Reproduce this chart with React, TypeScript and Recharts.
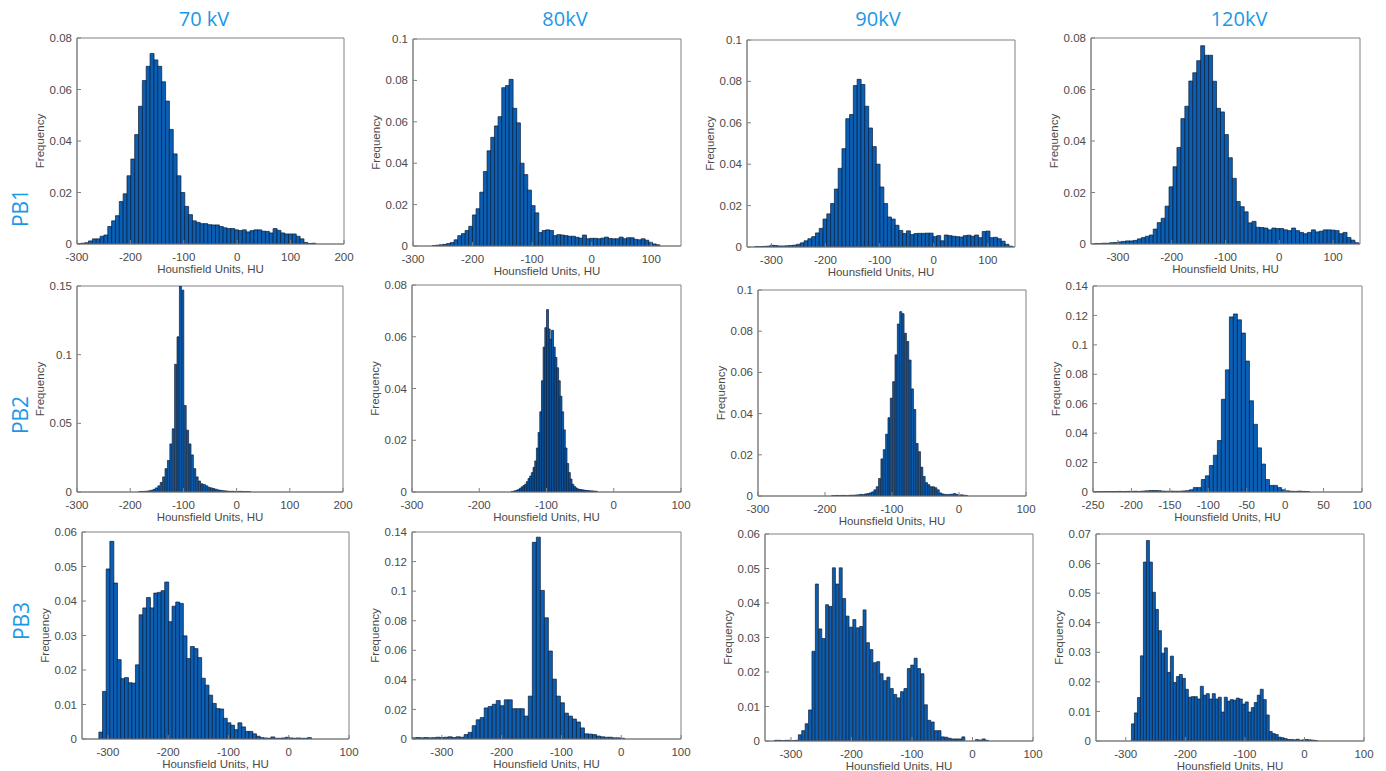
import React from 'react';
import { BarChart, Bar, XAxis, YAxis, ReferenceArea } from 'recharts';

// bin frequencies, left to right
// PB1
const pb1_70kV = [0.0002, 0.0003, 0.0005, 0.0012, 0.002, 0.002, 0.003, 0.0035, 0.0068, 0.009, 0.011, 0.0165, 0.0195, 0.0265, 0.033, 0.0425, 0.0535, 0.0635, 0.069, 0.074, 0.0715, 0.069, 0.063, 0.0555, 0.0445, 0.035, 0.0265, 0.02, 0.0146, 0.0114, 0.009, 0.0084, 0.0079, 0.0079, 0.0075, 0.0074, 0.0074, 0.0068, 0.0063, 0.006, 0.006, 0.0055, 0.0052, 0.0055, 0.0047, 0.0052, 0.0055, 0.0055, 0.005, 0.0049, 0.0043, 0.006, 0.0053, 0.0043, 0.0039, 0.0039, 0.0039, 0.003, 0.002, 0.0006, 0.0002, 0.0003];
const pb1_80kV = [0.0002, 0.0004, 0.0006, 0.0008, 0.0012, 0.0017, 0.003, 0.005, 0.006, 0.0075, 0.0095, 0.015, 0.018, 0.026, 0.036, 0.046, 0.0525, 0.058, 0.0625, 0.0765, 0.0775, 0.0805, 0.0665, 0.0595, 0.04, 0.0345, 0.027, 0.0195, 0.016, 0.0065, 0.0075, 0.0078, 0.0075, 0.005, 0.0055, 0.0053, 0.005, 0.0047, 0.0047, 0.0042, 0.0038, 0.0053, 0.0035, 0.0037, 0.0037, 0.0035, 0.0038, 0.0043, 0.0036, 0.0035, 0.0035, 0.0043, 0.0035, 0.004, 0.004, 0.0032, 0.003, 0.0035, 0.0028, 0.0018, 0.001, 0.0006];
const pb1_90kV = [0.0002, 0.0002, 0.0003, 0.0004, 0.0008, 0.0007, 0.0005, 0.0005, 0.0006, 0.0007, 0.0009, 0.0013, 0.002, 0.003, 0.004, 0.005, 0.0068, 0.009, 0.0135, 0.016, 0.021, 0.028, 0.038, 0.0475, 0.062, 0.064, 0.078, 0.081, 0.0785, 0.068, 0.0575, 0.0485, 0.04, 0.029, 0.021, 0.0145, 0.0135, 0.0105, 0.008, 0.0065, 0.0078, 0.006, 0.0065, 0.0066, 0.0066, 0.0067, 0.0067, 0.005, 0.0055, 0.003, 0.0058, 0.0055, 0.0052, 0.005, 0.0048, 0.0055, 0.0057, 0.0052, 0.0058, 0.0045, 0.0075, 0.0077, 0.0045, 0.0047, 0.004, 0.0028, 0.0013, 0.0004];
const pb1_120kV = [0.0002, 0.0002, 0.0003, 0.0003, 0.0005, 0.0006, 0.0008, 0.001, 0.0012, 0.0012, 0.0014, 0.002, 0.0025, 0.003, 0.0035, 0.0058, 0.0083, 0.01, 0.0147, 0.0222, 0.03, 0.0375, 0.0487, 0.0535, 0.0633, 0.0665, 0.0712, 0.077, 0.0733, 0.0733, 0.0632, 0.0527, 0.0513, 0.0425, 0.0335, 0.0255, 0.0165, 0.0145, 0.0125, 0.0082, 0.0088, 0.0065, 0.0064, 0.0062, 0.0055, 0.0062, 0.006, 0.006, 0.0055, 0.0052, 0.0062, 0.0052, 0.0045, 0.004, 0.0045, 0.0055, 0.0047, 0.005, 0.0055, 0.0055, 0.0054, 0.0052, 0.004, 0.0045, 0.0025, 0.0015, 0.0005];

// PB2
const pb2_70kV = [0.0003, 0.0004, 0.0005, 0.0006, 0.0009, 0.0013, 0.002, 0.003, 0.0045, 0.007, 0.011, 0.017, 0.023, 0.035, 0.046, 0.093, 0.113, 0.15, 0.147, 0.063, 0.045, 0.035, 0.027, 0.017, 0.011, 0.008, 0.006, 0.0055, 0.0045, 0.0035, 0.003, 0.0025, 0.002, 0.0015, 0.0012, 0.001, 0.0008, 0.0006, 0.0005, 0.0005, 0.0004, 0.0004, 0.0005, 0.0004, 0.0003, 0.0003, 0.0002];
const pb2_80kV = [0.0002, 0.0003, 0.0005, 0.0007, 0.001, 0.0015, 0.002, 0.0025, 0.003, 0.004, 0.0052, 0.0062, 0.0075, 0.0095, 0.012, 0.017, 0.023, 0.031, 0.043, 0.056, 0.0635, 0.0705, 0.063, 0.059, 0.0625, 0.056, 0.052, 0.048, 0.043, 0.037, 0.031, 0.024, 0.017, 0.011, 0.0075, 0.005, 0.003, 0.0022, 0.0016, 0.0012, 0.001, 0.0009, 0.0008, 0.0007, 0.0006, 0.0005, 0.0005, 0.0004, 0.0004, 0.0003, 0.0003];
const pb2_90kV = [0.0002, 0.0002, 0.0003, 0.0002, 0.0003, 0.0003, 0.0002, 0.0003, 0.0004, 0.0004, 0.0005, 0.0006, 0.0008, 0.0007, 0.001, 0.0012, 0.0015, 0.002, 0.003, 0.0045, 0.0085, 0.018, 0.0225, 0.03, 0.038, 0.0475, 0.0555, 0.0685, 0.0835, 0.0895, 0.0885, 0.079, 0.075, 0.066, 0.052, 0.042, 0.0255, 0.0215, 0.014, 0.0095, 0.0065, 0.0055, 0.0045, 0.0045, 0.004, 0.003, 0.0015, 0.001, 0.0008, 0.0007, 0.0008, 0.0009, 0.0012, 0.0008, 0.0005, 0.0006, 0.0004, 0.0003];
const pb2_120kV = [0.0002, 0.0002, 0.0003, 0.0002, 0.0003, 0.0003, 0.0004, 0.0003, 0.0004, 0.0004, 0.0005, 0.0004, 0.0006, 0.0008, 0.001, 0.001, 0.0009, 0.0006, 0.0005, 0.0006, 0.0005, 0.0005, 0.0007, 0.0009, 0.0015, 0.003, 0.003, 0.0085, 0.011, 0.018, 0.025, 0.035, 0.063, 0.083, 0.119, 0.121, 0.117, 0.108, 0.089, 0.062, 0.046, 0.03, 0.019, 0.0085, 0.0045, 0.0045, 0.003, 0.0015, 0.0008, 0.0005, 0.0004, 0.0006, 0.0004, 0.0003];

// PB3
const pb3_70kV = [0.002, 0.0138, 0.0493, 0.0573, 0.0452, 0.023, 0.0175, 0.0178, 0.0163, 0.0162, 0.0215, 0.036, 0.038, 0.041, 0.038, 0.0423, 0.0425, 0.043, 0.0455, 0.034, 0.0385, 0.0397, 0.0393, 0.0299, 0.0233, 0.0268, 0.0262, 0.0236, 0.0176, 0.0156, 0.0127, 0.0103, 0.0088, 0.0087, 0.006, 0.0047, 0.004, 0.0027, 0.0047, 0.0035, 0.0022, 0.0022, 0.0015, 0.0008, 0.0004, 0.0003, 0.0002, 0.0006, 0.0002, 0.0002, 0.0003, 0.0005, 0.0003, 0.0002, 0.0003, 0.0002, 0.0002, 0.0004];
const pb3_80kV = [0.0008, 0.001, 0.0008, 0.001, 0.0008, 0.0009, 0.0012, 0.001, 0.0012, 0.0015, 0.001, 0.0015, 0.0012, 0.003, 0.0045, 0.009, 0.013, 0.0145, 0.021, 0.022, 0.0235, 0.026, 0.0225, 0.0265, 0.0265, 0.0205, 0.0205, 0.0205, 0.0155, 0.029, 0.133, 0.1365, 0.1005, 0.082, 0.0595, 0.0405, 0.029, 0.0245, 0.0175, 0.0155, 0.0135, 0.0115, 0.0075, 0.0035, 0.0033, 0.003, 0.002, 0.0015, 0.0012, 0.0012, 0.0008, 0.0008, 0.0005];
const pb3_90kV = [0.0002, 0.0002, 0.0001, 0.0002, 0.0002, 0.0001, 0.0002, 0.0018, 0.003, 0.005, 0.009, 0.026, 0.0455, 0.0325, 0.0297, 0.0395, 0.039, 0.0502, 0.0455, 0.0502, 0.0413, 0.0362, 0.033, 0.0352, 0.0328, 0.0332, 0.038, 0.0285, 0.0265, 0.0227, 0.023, 0.0195, 0.0175, 0.0185, 0.0152, 0.0135, 0.0125, 0.0143, 0.0152, 0.021, 0.022, 0.024, 0.021, 0.0195, 0.0105, 0.006, 0.0055, 0.003, 0.003, 0.0012, 0.0011, 0.0008, 0.0006, 0.0006, 0.0006, 0.0012, 0, 0, 0, 0.0004, 0.0003, 0.0006, 0.0002];
const pb3_120kV = [0.0058, 0.0095, 0.0147, 0.0288, 0.0605, 0.0678, 0.0605, 0.0503, 0.0445, 0.0373, 0.0297, 0.0315, 0.0232, 0.0287, 0.0198, 0.0218, 0.0225, 0.0212, 0.0175, 0.0148, 0.015, 0.015, 0.0142, 0.0185, 0.0155, 0.016, 0.0142, 0.016, 0.0142, 0.0148, 0.0098, 0.0148, 0.0135, 0.014, 0.0138, 0.0145, 0.0142, 0.0125, 0.0132, 0.0098, 0.0113, 0.013, 0.0155, 0.0175, 0.014, 0.0088, 0.0032, 0.0025, 0.0022, 0.0013, 0.0011, 0.0008, 0.0005, 0.0005, 0.0004, 0.0006, 0.0003, 0.0004, 0.0005, 0.0004, 0.0003, 0.0002];

// first bin edge and bin width (HU) of each histogram
const binStart = [-300, -268, -330.6, -344.6, -184, -152.5, -190, -250, -315, -350, -327.3, -290.5];
const binWidth = [7.2, 6.16, 7.0, 7.35, 4.5, 2.5, 3.5, 5.22, 6.07, 6.71, 5.63, 5.03];

const columnTitles = ['70 kV', '80kV', '90kV', '120kV'];
const rowTitles = ['PB1', 'PB2', 'PB3'];

const xTicksA = [-300, -200, -100, 0, 100, 200];
const xTicksB = [-300, -200, -100, 0, 100];
const xTicksC = [-250, -200, -150, -100, -50, 0, 50, 100];
const yTicks08 = [0, 0.02, 0.04, 0.06, 0.08];
const yTicks10 = [0, 0.02, 0.04, 0.06, 0.08, 0.1];
const yTicks14 = [0, 0.02, 0.04, 0.06, 0.08, 0.1, 0.12, 0.14];
const yTicks15 = [0, 0.05, 0.1, 0.15];
const yTicks06 = [0, 0.01, 0.02, 0.03, 0.04, 0.05, 0.06];
const yTicks07 = [0, 0.01, 0.02, 0.03, 0.04, 0.05, 0.06, 0.07];

const BLUE = '#1a98e6';
const TEXT = '#4a4a4a';
const AXIS = '#808080';
const FONT = '"Liberation Sans", Arial, sans-serif';
const ML = 74;
const MT = 6;
const MR = 22;
const MB = 50;

const panels = [
  { freq: pb1_70kV, xDomain: [-300, 200], xTicks: xTicksA, yMax: 0.08, yTicks: yTicks08, box: [77, 38, 267, 206] },
  { freq: pb1_80kV, xDomain: [-300, 150], xTicks: xTicksB, yMax: 0.1, yTicks: yTicks10, box: [413, 39, 268, 207] },
  { freq: pb1_90kV, xDomain: [-345, 150], xTicks: xTicksB, yMax: 0.1, yTicks: yTicks10, box: [747, 40, 268, 207] },
  { freq: pb1_120kV, xDomain: [-350, 150], xTicks: xTicksB, yMax: 0.08, yTicks: yTicks08, box: [1091, 38, 269, 206] },
  { freq: pb2_70kV, xDomain: [-300, 200], xTicks: xTicksA, yMax: 0.15, yTicks: yTicks15, box: [77, 286, 266, 206] },
  { freq: pb2_80kV, xDomain: [-300, 100], xTicks: xTicksB, yMax: 0.08, yTicks: yTicks08, box: [412, 285, 269, 207] },
  { freq: pb2_90kV, xDomain: [-300, 100], xTicks: xTicksB, yMax: 0.1, yTicks: yTicks10, box: [758, 290, 268, 206] },
  { freq: pb2_120kV, xDomain: [-250, 100], xTicks: xTicksC, yMax: 0.14, yTicks: yTicks14, box: [1093, 286, 269, 206] },
  { freq: pb3_70kV, xDomain: [-343, 100], xTicks: xTicksB, yMax: 0.06, yTicks: yTicks06, box: [82, 532, 267, 207] },
  { freq: pb3_80kV, xDomain: [-350, 100], xTicks: xTicksB, yMax: 0.14, yTicks: yTicks14, box: [412, 532, 269, 207] },
  { freq: pb3_90kV, xDomain: [-343, 100], xTicks: xTicksB, yMax: 0.06, yTicks: yTicks06, box: [765, 534, 268, 207] },
  { freq: pb3_120kV, xDomain: [-350, 100], xTicks: xTicksB, yMax: 0.07, yTicks: yTicks07, box: [1096, 534, 268, 207] },
];

const titlePos = [[204, 19], [565, 19], [878, 19], [1239, 19]];
const rowPos = [[20, 208], [20, 415], [21, 621]];

const tickStyle = { fill: TEXT, fontSize: 11.5, fontFamily: FONT };

function Histogram({ p, idx }: { p: any; idx: number }) {
  const [left, top, w, h] = p.box;
  const rows = p.freq.map((f: number, i: number) => ({
    hu: binStart[idx] + binWidth[idx] * (i + 0.5),
    f,
  }));
  return (
    <div style={{ position: 'absolute', left: left - ML, top: top - MT }}>
      <BarChart
        width={w + ML + MR}
        height={h + MT + MB}
        data={rows}
        margin={{ top: MT, right: MR, bottom: 0, left: 0 }}
        barCategoryGap={0}
        barGap={0}
      >
        <XAxis
          dataKey="hu"
          type="number"
          domain={p.xDomain}
          ticks={p.xTicks}
          allowDataOverflow
          interval={0}
          height={MB}
          tickSize={-4}
          tickMargin={13}
          stroke={AXIS}
          tick={tickStyle}
          label={{ value: 'Hounsfield Units, HU', position: 'center', fill: TEXT, fontSize: 11.5, fontFamily: FONT }}
        />
        {/* mirrored tick marks on the top and right edges, as MATLAB draws them */}
        <XAxis
          xAxisId="top"
          dataKey="hu"
          orientation="top"
          type="number"
          domain={p.xDomain}
          ticks={p.xTicks}
          allowDataOverflow
          interval={0}
          height={0}
          tickSize={-4}
          tick={false}
          stroke={AXIS}
        />
        <YAxis
          type="number"
          domain={[0, p.yMax]}
          ticks={p.yTicks}
          allowDataOverflow
          interval={0}
          width={ML}
          tickSize={-4}
          tickMargin={9}
          stroke={AXIS}
          tick={tickStyle}
          label={{ value: 'Frequency', angle: -90, position: 'center', fill: TEXT, fontSize: 11.5, fontFamily: FONT }}
        />
        <YAxis
          yAxisId="right"
          dataKey="f"
          orientation="right"
          type="number"
          domain={[0, p.yMax]}
          ticks={p.yTicks}
          allowDataOverflow
          interval={0}
          width={0}
          tickSize={-4}
          tick={false}
          stroke={AXIS}
        />
        <ReferenceArea
          x1={p.xDomain[0]}
          x2={p.xDomain[1]}
          y1={0}
          y2={p.yMax}
          fill="none"
          stroke={AXIS}
          strokeWidth={1}
          ifOverflow="visible"
        />
        <Bar dataKey="f" fill="#0a5fb4" stroke="#0b1c36" strokeWidth={0.7} isAnimationActive={false} />
      </BarChart>
    </div>
  );
}

export default function App() {
  return (
    <div style={{ position: 'absolute', left: 0, top: 0, width: 1386, height: 771, background: '#fff', overflow: 'hidden' }}>
      {columnTitles.map((t, i) => (
        <div
          key={t}
          style={{
            position: 'absolute',
            left: titlePos[i][0],
            top: titlePos[i][1],
            transform: 'translate(-50%, -50%)',
            color: BLUE,
            fontFamily: '"Open Sans", sans-serif',
            fontSize: 20,
            lineHeight: 1,
            whiteSpace: 'nowrap',
          }}
        >
          {t}
        </div>
      ))}
      {rowTitles.map((t, i) => (
        <div
          key={t}
          style={{
            position: 'absolute',
            left: rowPos[i][0],
            top: rowPos[i][1],
            transform: 'translate(-50%, -50%) rotate(-90deg)',
            color: BLUE,
            fontFamily: '"Open Sans", sans-serif',
            fontSize: 21,
            lineHeight: 1,
            whiteSpace: 'nowrap',
          }}
        >
          {t}
        </div>
      ))}
      {panels.map((p, i) => (
        <Histogram key={i} p={p} idx={i} />
      ))}
    </div>
  );
}
